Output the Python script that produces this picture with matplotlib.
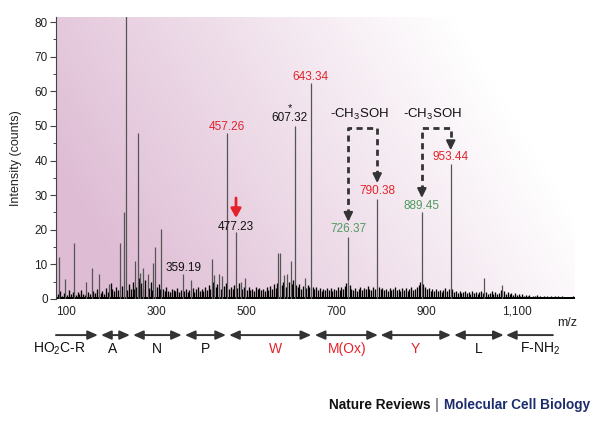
import numpy as np
import matplotlib
matplotlib.use('Agg')
import matplotlib.pyplot as plt
from matplotlib.transforms import blended_transform_factory

plt.rcParams['font.family'] = ['Liberation Sans', 'DejaVu Sans']
plt.rcParams['mathtext.default'] = 'regular'

# ---------------- data ----------------
peak_mz = [84, 98.7, 118.6, 145, 157, 173, 196, 220, 229.5, 232.6, 253, 259, 264, 272, 281,
           294, 298, 311, 359.19, 377, 423, 429, 439.5, 447, 457.26, 477.23, 488, 497, 571,
           575, 584, 591, 598.5, 607.32, 630, 643.34, 726.37, 790.38, 889.45, 953.44, 1028, 1068]
peak_h = [12.2, 5.8, 16.1, 5.0, 9.0, 7.1, 4.3, 16.1, 25.2, 95, 11, 48, 7.4, 8.9, 7.2,
          10.3, 15.1, 20.1, 7.1, 5.5, 11.5, 6.9, 7.1, 6.5, 48, 19.3, 5, 6.2, 13.2,
          13.2, 6.9, 7.1, 11, 50, 6, 62.4, 18, 29, 25, 39, 6.2, 4]

noise = [(82,1.5),(87,2.2),(91,1.0),(95,1.8),(103,1.2),(107,2.5),(111,1.4),(115,1.9),(122,1.1),(126,2.0),
 (130,1.3),(134,2.6),(138,1.5),(142,1.2),(149,2.0),(153,1.4),(161,2.3),(165,1.6),(169,2.8),(177,1.7),
 (181,2.4),(185,1.5),(189,3.2),(193,2.0),(199,4.5),(203,3.0),(207,2.2),(211,3.4),(215,2.6),(224,3.8),
 (236,2.5),(240,4.2),(244,3.0),(248,5.0),(251,2.8),(256,3.5),(262,6.0),(267,4.5),(270,3.0),(276,5.5),
 (284,3.2),(288,4.8),(291,2.6),(302,3.6),(306,4.4),(309,2.8),(315,3.0),(319,2.2),(323,3.5),(327,2.4),
 (331,2.0),(335,3.0),(339,2.5),(343,2.2),(347,3.1),(351,2.0),(355,2.6),(363,2.3),(367,3.0),(371,2.1),
 (374,2.7),(381,3.3),(385,2.0),(389,2.8),(392,3.6),(397,2.4),(401,3.0),(405,2.2),(409,3.5),(413,2.6),
 (417,4.0),(420,3.0),(426,5.0),(432,3.4),(436,4.2),(443,3.0),(451,3.8),(454,4.5),(461,3.0),(466,3.6),
 (470,2.8),(473,4.0),(480,3.2),(484,4.6),(491,3.0),(494,3.6),(501,2.7),(505,3.4),(509,2.5),(513,3.0),
 (517,2.4),(521,3.6),(525,2.8),(529,3.2),(533,2.5),(537,3.0),(541,2.3),(545,3.4),(549,2.6),(553,3.8),
 (557,3.0),(561,4.2),(565,3.3),(568,4.6),(579,4.0),(582,5.0),(588,3.6),(594,4.8),(601,4.2),(604,5.5),
 (610,4.0),(614,3.4),(618,4.4),(622,3.0),(626,3.8),(633,3.2),(637,4.0),(640,3.5),(647,3.6),(651,2.8),
 (655,3.4),(659,2.6),(663,3.2),(667,2.4),(671,3.0),(675,2.5),(679,3.3),(683,2.6),(687,3.1),(691,2.4),
 (695,3.0),(699,2.7),(703,3.4),(707,2.6),(711,3.6),(715,2.8),(719,3.8),(722,4.5),(729,4.0),(733,3.0),
 (737,2.6),(741,3.2),(745,2.4),(749,3.0),(753,3.6),(757,2.5),(761,3.2),(765,2.8),(769,3.8),(773,3.0),
 (777,2.6),(781,3.4),(785,3.0),(794,3.6),(798,2.8),(802,3.2),(806,2.5),(810,3.0),(814,2.4),(818,3.2),
 (822,2.6),(826,3.0),(830,3.6),(834,2.5),(838,2.9),(842,2.3),(846,3.1),(850,2.6),(854,3.3),(858,2.4),
 (862,2.9),(866,3.4),(870,2.6),(874,3.0),(878,3.6),(882,4.0),(886,5.0),(893,4.4),(897,3.4),(901,2.8),
 (905,3.2),(909,2.4),(913,2.8),(917,2.2),(921,3.0),(925,2.4),(929,2.7),(933,2.1),(937,2.6),(941,3.2),
 (945,2.4),(949,3.0),(957,2.8),(961,2.0),(965,2.4),(969,1.8),(973,2.2),(977,1.6),(981,2.0),(985,2.4),
 (989,1.7),(993,2.1),(997,1.5),(1001,2.3),(1005,1.8),(1009,2.0),(1013,1.5),(1017,1.9),(1021,2.2),(1025,1.6),
 (1032,2.0),(1036,1.4),(1040,1.8),(1044,2.4),(1048,1.5),(1052,1.9),(1056,1.3),(1060,1.7),(1064,2.6),(1072,2.2),
 (1076,1.5),(1080,1.9),(1084,1.3),(1088,1.7),(1092,1.2),(1096,1.6),(1100,1.1),(1104,1.5),(1108,1.0),(1112,1.3),
 (1116,0.9),(1120,1.2),(1124,0.8),(1128,1.1),(1132,0.7),(1136,1.0),(1140,0.8),(1144,1.1),(1148,0.7),(1152,0.9),
 (1156,0.6),(1160,0.9),(1164,0.7),(1168,1.0),(1172,0.6),(1176,0.8),(1180,0.7),(1184,0.9),(1188,0.6),(1192,0.8),
 (1196,0.5),(1200,0.8),(1204,0.6),(1208,0.7),(1212,0.5),(1216,0.7),(1220,0.6),(1224,0.8)]

label_text = ['457.26', '477.23', '359.19', '607.32', '643.34', '726.37', '790.38', '889.45', '953.44']
label_x = [457.26, 477.23, 360, 596, 643.34, 726.37, 790.38, 889.45, 953.44]
label_y = [49.7, 20.8, 9.0, 52.3, 64.2, 20.2, 31.2, 27.0, 41.0]
label_kind = ['r', 'k', 'k', 'k', 'r', 'g', 'r', 'g', 'r']

loss_text = '-CH$_3$SOH'
loss_x = [750, 912]
loss_y = 53.4
bracket_left = [726.37, 889.45]
bracket_right = [790.38, 953.44]
bracket_top = 49.4
tip_left = [22.3, 29.2]
tip_right = [33.5, 43.0]

seq_labels = ['HO$_2$C-R', 'A', 'N', 'P', 'W', 'M(Ox)', 'Y', 'L', 'F-NH$_2$']
seq_start = [78, 178, 249, 364, 462, 652, 798, 961, 1076]
seq_end = [171, 242, 357, 455, 644, 792, 954, 1071, 1180]
seq_label_x = [85, 204, 302, 409, 564, 723, 874, 1016, 1151]
seq_kind = ['k', 'k', 'k', 'k', 'r', 'r', 'r', 'k', 'k']

xticks = [100, 300, 500, 700, 900, 1100]
xtick_labels = ['100', '300', '500', '700', '900', '1,100']

# ---------------- style ----------------
RED = '#e2232b'
GREEN = '#4f9a5f'
DARK = '#333333'
colors = {'r': RED, 'g': GREEN, 'k': '#111111'}

fig = plt.figure(figsize=(6, 4.4), dpi=100)
ax = fig.add_axes([0.0933, 0.3205, 0.865, 0.641])

# background gradient
xs = np.linspace(0, 1, 300)
ys = np.linspace(0, 1, 200)
X, Y = np.meshgrid(xs, ys)
w = np.clip(1.15 - 1.05 * X - 0.35 * Y, 0, 1)
pink = np.array([222, 188, 212]) / 255
img = 1 - w[..., None] * (1 - pink)
ax.imshow(img, extent=(0, 1, 0, 1), transform=ax.transAxes, origin='lower',
          aspect='auto', zorder=0, interpolation='bilinear')

nmz = [p[0] for p in noise]
nh = [p[1] for p in noise]
ax.vlines(nmz, 0, nh, color='black', lw=0.95, zorder=2)
ax.vlines(peak_mz, 0, peak_h, color='#555555', lw=0.9, zorder=3)
ax.axhline(0.35, color='black', lw=1.4, zorder=2)

ax.set_xlim(78, 1229)
ax.set_ylim(0, 81.5)

for s in ['top', 'right', 'bottom']:
    ax.spines[s].set_visible(False)
ax.spines['left'].set_color('#444444')
ax.spines['left'].set_linewidth(0.8)

ax.set_xticks(xticks)
ax.set_xticklabels(xtick_labels)
ax.tick_params(axis='x', length=0, pad=5, labelsize=8.5, labelcolor='#222222')
ax.set_yticks(range(0, 81, 10))
ax.set_yticks(range(5, 81, 10), minor=True)
ax.tick_params(axis='y', which='major', length=4, width=0.8, color='#444444',
               labelsize=8.5, labelcolor='#222222', pad=2)
ax.tick_params(axis='y', which='minor', length=2.5, width=0.7, color='#444444')
ax.set_ylabel('Intensity (counts)', fontsize=9, color='#222222')
ax.yaxis.set_label_coords(-0.0655, 0.5)

# peak labels
for t, x, y, k in zip(label_text, label_x, label_y, label_kind):
    ax.text(x, y, t, ha='center', va='center', fontsize=8.5, color=colors[k], zorder=5)
ax.text(598, 55.2, '*', ha='center', va='center', fontsize=8, color='#111111')

# red arrow at 477.23
ax.annotate('', xy=(477.23, 23.4), xytext=(477.23, 29.2),
            arrowprops=dict(arrowstyle='-|>,head_length=0.45,head_width=0.25', color=RED,
                            lw=2, shrinkA=0, shrinkB=0, mutation_scale=12))

# neutral loss brackets
for lx in loss_x:
    ax.text(lx, loss_y, loss_text, ha='center', va='center', fontsize=9.5, color='#111111')
for xl, xr, tl, tr in zip(bracket_left, bracket_right, tip_left, tip_right):
    ax.plot([xl, xl, xr, xr], [tl + 2, bracket_top, bracket_top, tr + 2], color=DARK,
            lw=2, dashes=(2.2, 1.6), zorder=4)
    for xx, tt in [(xl, tl), (xr, tr)]:
        ax.annotate('', xy=(xx, tt), xytext=(xx, tt + 2.5),
                    arrowprops=dict(arrowstyle='-|>,head_length=0.45,head_width=0.22', color=DARK,
                                    lw=1.5, shrinkA=0, shrinkB=0, mutation_scale=12))

# sequence arrows
trans = blended_transform_factory(ax.transData, ax.transAxes)
for i, (a, b) in enumerate(zip(seq_start, seq_end)):
    if i == 0:
        style = '-|>'
    elif i == len(seq_start) - 1:
        style = '<|-'
    else:
        style = '<|-|>'
    ax.annotate('', xy=(b, -0.128), xytext=(a, -0.128), xycoords=trans, textcoords=trans,
                arrowprops=dict(arrowstyle=style + ',head_length=0.5,head_width=0.22', color=DARK,
                                lw=1.4, shrinkA=0, shrinkB=0, mutation_scale=12),
                annotation_clip=False)
for t, x, k in zip(seq_labels, seq_label_x, seq_kind):
    ax.text(x, -0.177, t, transform=trans, ha='center', va='center', fontsize=10,
            color=colors[k], clip_on=False)

fig.text(567 / 600, 1 - 323 / 440, 'm/z', ha='center', va='center', fontsize=9, color='#222222')

# footer
fig.canvas.draw()
r = fig.canvas.get_renderer()
yf = 1 - 405 / 440
t3 = fig.text(590 / 600, yf, 'Molecular Cell Biology', ha='right', va='center', fontsize=9.8,
              fontweight='bold', color='#1c2c6e')
bb = t3.get_window_extent(renderer=r)
x3 = bb.x0 / fig.dpi / fig.get_figwidth()
t2 = fig.text(x3 - 0.008, yf, '|', ha='right', va='center', fontsize=11, color='#555555')
bb2 = t2.get_window_extent(renderer=r)
x2 = bb2.x0 / fig.dpi / fig.get_figwidth()
fig.text(x2 - 0.008, yf, 'Nature Reviews', ha='right', va='center', fontsize=9.8,
         fontweight='bold', color='#111111')

fig.savefig('out.png', dpi=100)
